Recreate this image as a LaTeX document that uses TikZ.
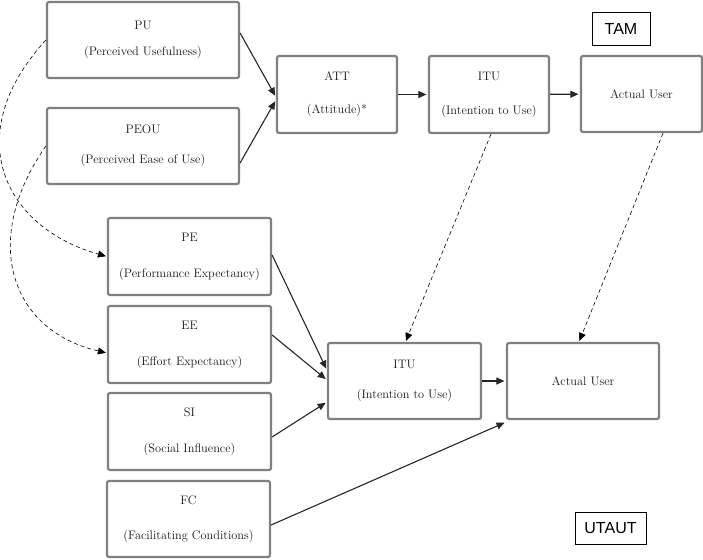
\documentclass[tikz,border=0pt]{standalone}
\usepackage{fontspec}
\newfontfamily\tagfont{Liberation Sans}
\usetikzlibrary{arrows.meta}

\begin{document}
\begin{tikzpicture}[x=1pt, y=-1pt,
    box/.style={draw=black!50, line width=2.2pt, rounded corners=2pt, align=center,
      text=black!90, font=\fontsize{12.3}{14}\selectfont, inner sep=0pt},
    tag/.style={draw=black, line width=0.8pt, inner sep=0pt, font=\tagfont\fontsize{16}{18}\selectfont},
    arr/.style={line width=1.1pt, draw=black!85, shorten >=1.5pt, -{Triangle[length=8pt,width=7pt]}},
    link/.style={line width=0.6pt, dash pattern=on 4pt off 3pt, shorten >=1pt, -{Triangle[length=8pt,width=7pt]}}]
    \useasboundingbox (0,0) rectangle (703,559);
    % TAM
    \node[box, minimum width=192pt, minimum height=76pt] (pu) at (143,40) {PU\\[12pt](Perceived Usefulness)};
    \node[box, minimum width=192pt, minimum height=76pt] (peou) at (143,146) {PEOU\\[16pt](Perceived Ease of Use)};
    \node[box, minimum width=120pt, minimum height=77pt] (att) at (337,94.5) {ATT\\[19pt](Attitude)*};
    \node[box, minimum width=120pt, minimum height=77pt] (itua) at (489,94.5) {ITU\\[20pt](Intention to Use)};
    \node[box, minimum width=121pt, minimum height=76pt] (aua) at (641.5,94) {Actual User};
    \node[tag, minimum width=58pt, minimum height=33pt] (tam) at (621,28.5) {TAM};
    % UTAUT
    \node[box, minimum width=163pt, minimum height=77pt] (pe) at (189.5,256.5) {PE\\[22pt](Performance Expectancy)};
    \node[box, minimum width=163pt, minimum height=77pt] (ee) at (189.5,344.5) {EE\\[22pt](Effort Expectancy)};
    \node[box, minimum width=163pt, minimum height=77pt] (si) at (189.5,431.5) {SI\\[22pt](Social Influence)};
    \node[box, minimum width=163pt, minimum height=76pt] (fc) at (188.5,519) {FC\\[21pt](Facilitating Conditions)};
    \node[box, minimum width=153pt, minimum height=76pt] (itub) at (404.5,381) {ITU\\[16pt](Intention to Use)};
    \node[box, minimum width=152pt, minimum height=76pt] (aub) at (583,381) {Actual User};
    \node[tag, minimum width=71pt, minimum height=32pt] (utaut) at (610.5,528) {UTAUT};

    \draw[arr] ([yshift=7pt]pu.east) -- ([yshift=-2.5pt]att.west);
    \draw[arr] ([yshift=-17pt]peou.east) -- ([yshift=-5.5pt]att.west);
    \draw[arr] (att) -- (itua);
    \draw[arr] (itua) -- (aua);
    \draw[arr] ([yshift=1.5pt]pe.east) -- ([yshift=11pt]itub.west);
    \draw[arr] ([yshift=9.5pt]ee.east) -- ([yshift=1pt]itub.west);
    \draw[arr] ([yshift=-5.5pt]si.east) -- ([yshift=-21pt]itub.west);
    \draw[arr] ([yshift=-6pt]fc.east) -- ([yshift=-2pt]aub.south west);
    \draw[arr] (itub) -- (aub);

    % TAM constructs mapped onto UTAUT
    \draw[link] (pu.west) .. controls +(-87,95) and +(-103,-29) .. (pe.west);
    \draw[link] (peou.west) .. controls +(-65,93) and +(-98,-23) .. ([yshift=-8.5pt]ee.west);
    \draw[link] ([xshift=2pt]itua.south) -- ([xshift=1pt]itub.north);
    \draw[link] ([xshift=21.5pt]aua.south) -- ([xshift=-4pt]aub.north);
\end{tikzpicture}
\end{document}
